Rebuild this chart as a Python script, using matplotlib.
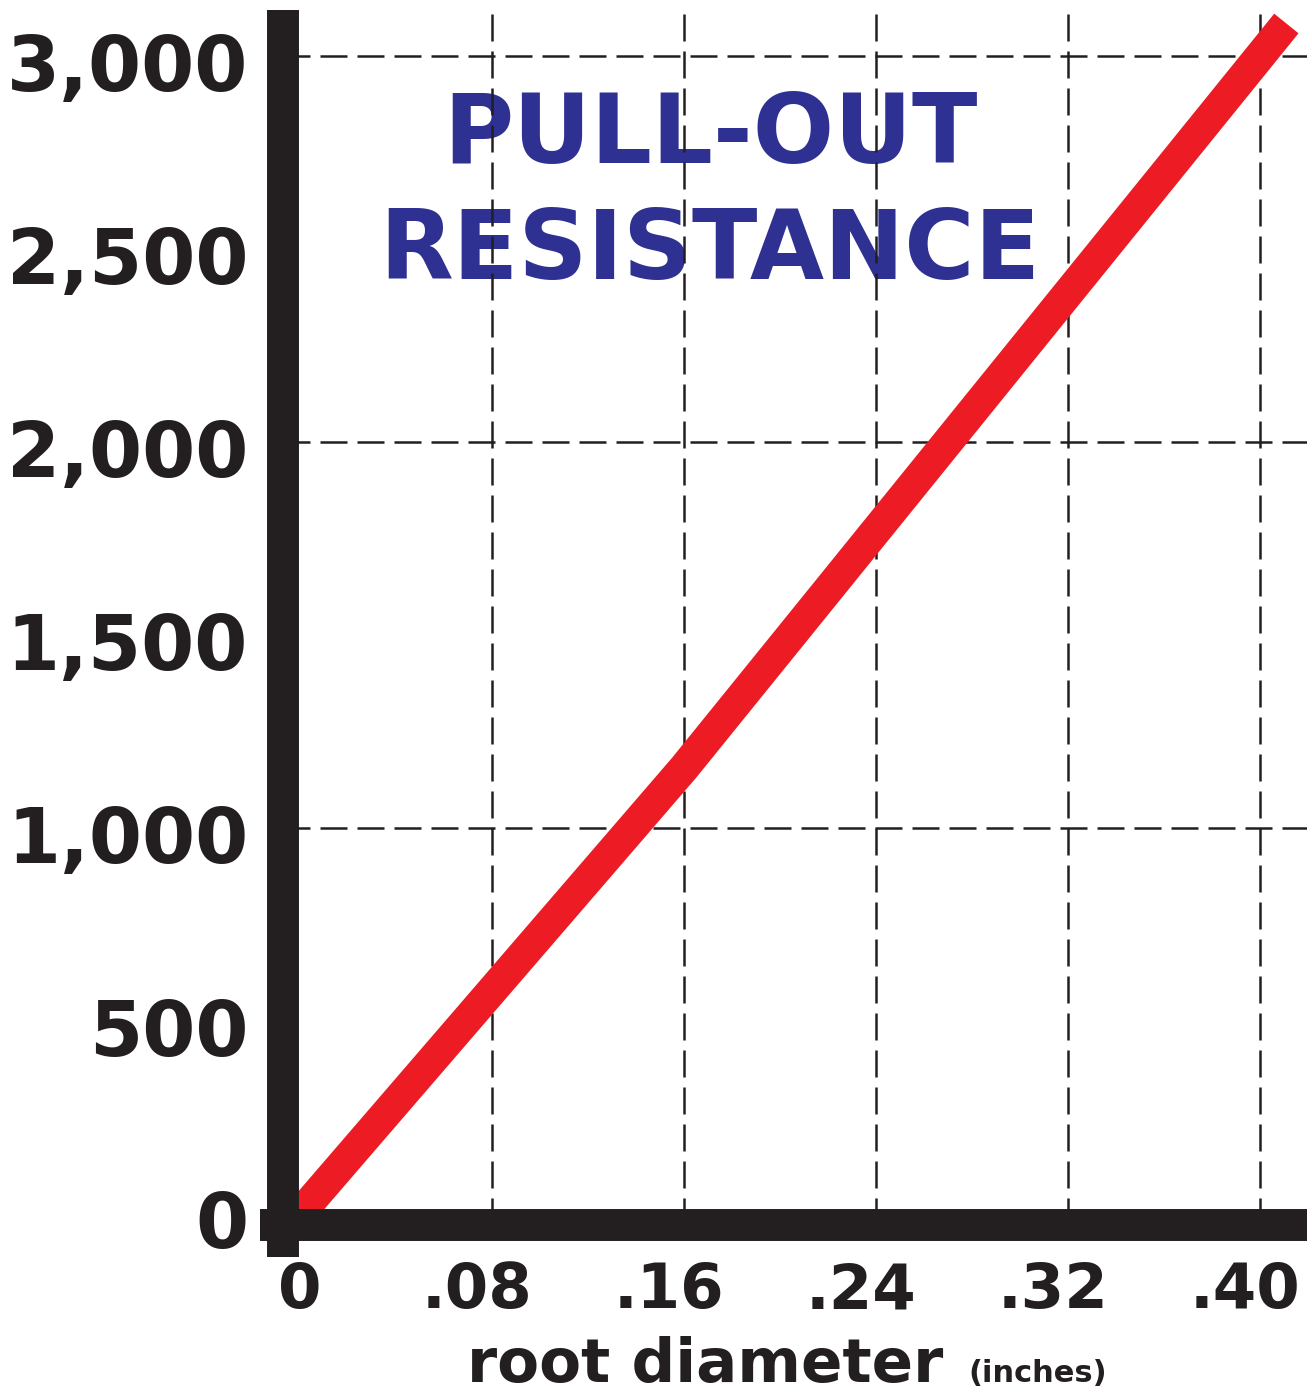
import matplotlib
matplotlib.use("Agg")
import matplotlib.pyplot as plt
import matplotlib.transforms as mtransforms

# --- data ---
diam = [0.0, 0.16, 0.411]          # root diameter, inches
pull = [0.0, 1155.0, 3085.0]       # pull-out resistance
x_ticks = [0.0, 0.08, 0.16, 0.24, 0.32, 0.40]
x_labels = ["0", ".08", ".16", ".24", ".32", ".40"]
y_ticks = [0, 500, 1000, 1500, 2000, 2500, 3000]
y_labels = ["0", "500", "1,000", "1,500", "2,000", "2,500", "3,000"]
grid_x = [0.08, 0.16, 0.24, 0.32, 0.40]
grid_y = [1000, 2000, 3000]

BLACK = "#231F20"
RED = "#ED1C24"
BLUE = "#2E3192"
FONT = ["DejaVu Sans"]

fig = plt.figure(figsize=(13.12, 13.93), dpi=100)
ax = fig.add_axes([283 / 1312, 168 / 1393, 1024 / 1312, 1215 / 1393])
ax.set_xlim(-0.00708, 0.4196)
ax.set_ylim(-30, 3120)

for gx in grid_x:
    ax.axvline(gx, color=BLACK, lw=1.8, ls=(0, (10.8, 4)), zorder=1)
for gy in grid_y:
    ax.axhline(gy, color=BLACK, lw=1.8, ls=(0, (10.8, 4)), zorder=1)

ax.plot(diam, pull, color=RED, lw=22.5, solid_capstyle="butt",
        solid_joinstyle="miter", zorder=3, clip_on=False)

# thick axis bars drawn by hand (they overhang the corner)
for s in ax.spines.values():
    s.set_visible(False)
ax.plot([0, 0], [-32 / 1215, 1.0], transform=ax.transAxes, color=BLACK,
        lw=23, solid_capstyle="butt", clip_on=False, zorder=5)
ax.plot([-23 / 1024, 1.0], [0, 0], transform=ax.transAxes, color=BLACK,
        lw=23, solid_capstyle="butt", clip_on=False, zorder=5)

ax.set_xticks(x_ticks)
ax.set_xticklabels(x_labels, fontsize=45, fontweight="bold",
                   family=FONT, color=BLACK)
ax.set_yticks(y_ticks)
ax.set_yticklabels(y_labels, fontsize=55, fontweight="bold",
                   family=FONT, color=BLACK)
ax.tick_params(axis="x", length=0, pad=26)
ax.tick_params(axis="y", length=0, pad=25)
# digits centred on the gridline, leading dot hangs to the left
for lab in ax.get_xticklabels():
    if lab.get_text().startswith("."):
        lab.set_transform(lab.get_transform() + mtransforms.ScaledTranslation(
            -15 / 100, 0, fig.dpi_scale_trans))
for lab in ax.get_yticklabels():
    lab.set_transform(lab.get_transform() + mtransforms.ScaledTranslation(
        0, -6 / 100, fig.dpi_scale_trans))

fig.text(943 / 1312, 1 - 1382 / 1393, "root diameter", fontsize=44,
         fontweight="bold", family=FONT, color=BLACK, ha="right",
         va="baseline")
fig.text(968 / 1312, 1 - 1382 / 1393, "(inches)", fontsize=22,
         fontweight="bold", family=FONT, color=BLACK, ha="left",
         va="baseline")

# title sits under the dashed grid
ax.text(710 / 1312, 1 - 163 / 1393, "PULL-OUT", fontsize=69,
        fontweight="bold", family=FONT, color=BLUE, ha="center",
        va="baseline", transform=fig.transFigure, zorder=0.5)
ax.text(710 / 1312, 1 - 279 / 1393, "RESISTANCE", fontsize=69,
        fontweight="bold", family=FONT, color=BLUE, ha="center",
        va="baseline", transform=fig.transFigure, zorder=0.5)

fig.savefig("out.png", dpi=100)
